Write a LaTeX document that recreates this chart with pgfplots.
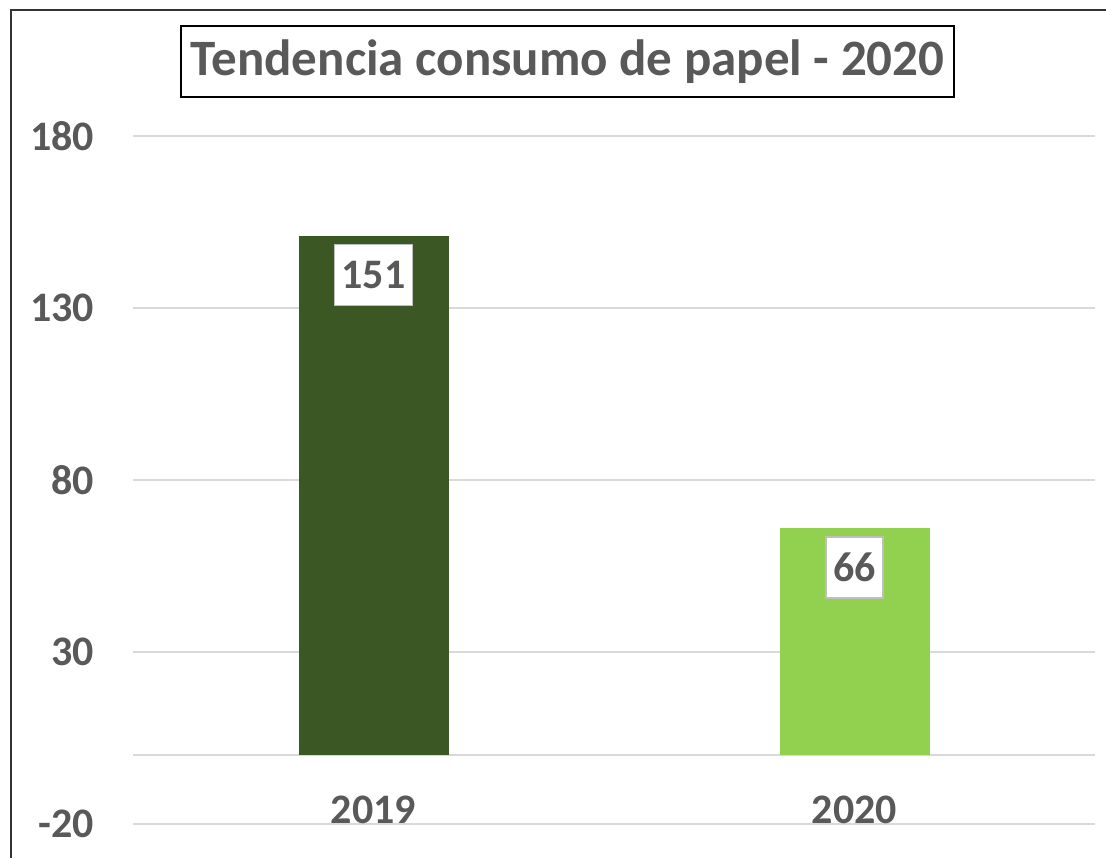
\documentclass[border=0pt]{standalone}
\usepackage{pgfplots}
\pgfplotsset{compat=1.18}
\usepackage{fontspec}
\setmainfont{Carlito}
\definecolor{txtgray}{HTML}{595959}
\definecolor{gridgray}{HTML}{D9D9D9}
\definecolor{darkgreen}{HTML}{3B5724}
\definecolor{lightgreen}{HTML}{92D050}
\definecolor{boxgray}{HTML}{BFBFBF}
\begin{document}
\begin{tikzpicture}[x=1pt,y=1pt]
\useasboundingbox (0,0) rectangle (553,429);
\draw[line width=1pt, black!80] (5.5,0) -- (5.5,424) -- (553,424);
\begin{axis}[
  at={(66.5pt,17pt)}, anchor=south west,
  scale only axis, width=481pt, height=344pt,
  xmin=-0.5, xmax=1.5, ymin=-20, ymax=180,
  ytick={-20,30,80,130,180},
  extra y ticks={0}, extra y tick labels={},
  extra y tick style={grid=major, major grid style={gridgray, line width=0.8pt}},
  xtick=\empty,
  axis line style={draw=none},
  major tick length=0pt,
  ymajorgrids, grid style={gridgray, line width=0.8pt},
  /pgf/number format/assume math mode=true,
  yticklabel style={font=\fontsize{21}{24}\selectfont\bfseries, text=txtgray, xshift=-16pt},
  ybar, bar width=75pt, bar shift=0pt,
  nodes near coords,
  every node near coord/.append style={font=\fontsize{21}{24}\selectfont\bfseries, text=txtgray,
     fill=white, draw=boxgray, line width=0.8pt, anchor=north, yshift=-4pt,
     minimum height=30.5pt, inner xsep=3.5pt},
  clip=false,
]
\addplot[fill=darkgreen, draw=none] coordinates {(0,151)};
\addplot[fill=lightgreen, draw=none] coordinates {(1,66)};
\node[font=\fontsize{21}{24}\selectfont\bfseries, text=txtgray] at (axis cs:0,-16) {2019};
\node[font=\fontsize{21}{24}\selectfont\bfseries, text=txtgray] at (axis cs:1,-16) {2020};
\end{axis}
\node[draw=black, line width=1pt, minimum width=386.5pt, minimum height=35.5pt,
  font=\fontsize{25.5}{30}\selectfont\bfseries, text=txtgray] at (283.75,398.25) {Tendencia consumo de papel - 2020};
\end{tikzpicture}
\end{document}
